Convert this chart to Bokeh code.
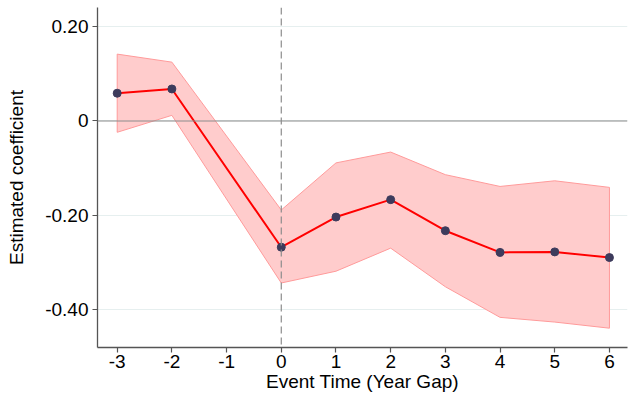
from bokeh.plotting import figure
from bokeh.models import FixedTicker, Span, ColumnDataSource, Range1d
from bokeh.embed import file_html
from bokeh.resources import INLINE

event_time = [-3, -2, 0, 1, 2, 3, 4, 5, 6]
coef = [0.059, 0.068, -0.268, -0.204, -0.167, -0.233, -0.279, -0.278, -0.290]
ci_upper = [0.142, 0.125, -0.189, -0.089, -0.066, -0.114, -0.139, -0.127, -0.141]
ci_lower = [-0.024, 0.012, -0.344, -0.319, -0.270, -0.352, -0.417, -0.427, -0.440]

x_ticks = [-3, -2, -1, 0, 1, 2, 3, 4, 5, 6]
x_tick_labels = {-3: "-3", -2: "-2", -1: "-1", 0: "0", 1: "1", 2: "2", 3: "3", 4: "4", 5: "5", 6: "6"}
y_ticks = [0.2, 0.0, -0.2, -0.4]
y_tick_labels = {0.2: "0.20", 0.0: "0", -0.2: "-0.20", -0.4: "-0.40"}

FONT = "Liberation Sans"
FS = "19px"

p = figure(width=629, height=394, output_backend="svg", toolbar_location=None,
           x_range=Range1d(-3.36, 6.33), y_range=Range1d(-0.481, 0.241),
           min_border_left=97, min_border_right=2, min_border_top=7, min_border_bottom=30)
p.outline_line_color = None
p.background_fill_color = "white"

# grid
p.xgrid.visible = False
p.ygrid.ticker = FixedTicker(ticks=y_ticks)
p.ygrid.grid_line_color = "#e6efef"
p.ygrid.grid_line_width = 1

# band
band_x = event_time + event_time[::-1]
band_y = ci_upper + ci_lower[::-1]
p.patch(band_x, band_y, fill_color="#ffcccc", fill_alpha=1.0,
        line_color="#ff9a9a", line_width=1)

# reference lines
p.add_layout(Span(location=0, dimension="width", line_color="#8c8c8c", line_width=1.2))
p.add_layout(Span(location=0, dimension="height", line_color="#8c8c8c", line_width=1.2,
                  line_dash="7 4"))

src = ColumnDataSource(dict(x=event_time, y=coef))
p.line("x", "y", source=src, line_color="#ff0000", line_width=2)
p.scatter("x", "y", source=src, size=8, fill_color="#3d3b5c", line_color="#3d3b5c")

# axes
for ax in (p.xaxis[0], p.yaxis[0]):
    ax.axis_line_color = "#555555"
    ax.axis_line_width = 1.3
    ax.major_tick_line_color = "#555555"
    ax.major_tick_line_width = 1.2
    ax.major_tick_out = 5
    ax.major_tick_in = 0
    ax.minor_tick_line_color = None
    ax.major_label_text_font = FONT
    ax.major_label_text_font_size = FS
    ax.major_label_text_color = "black"
    ax.axis_label_text_font = FONT
    ax.axis_label_text_font_size = FS
    ax.axis_label_text_font_style = "normal"
    ax.axis_label_text_color = "black"

p.xaxis.ticker = FixedTicker(ticks=x_ticks)
p.xaxis.major_label_overrides = x_tick_labels
p.xaxis.axis_label = "Event Time (Year Gap)"
p.xaxis.major_label_standoff = 2
p.xaxis.axis_label_standoff = 0

p.yaxis.ticker = FixedTicker(ticks=y_ticks)
p.yaxis.major_label_overrides = y_tick_labels
p.yaxis.axis_label = "Estimated coefficient"
p.yaxis.major_label_standoff = 4
p.yaxis.axis_label_standoff = 15

open("out.html", "w").write(file_html(p, INLINE))
